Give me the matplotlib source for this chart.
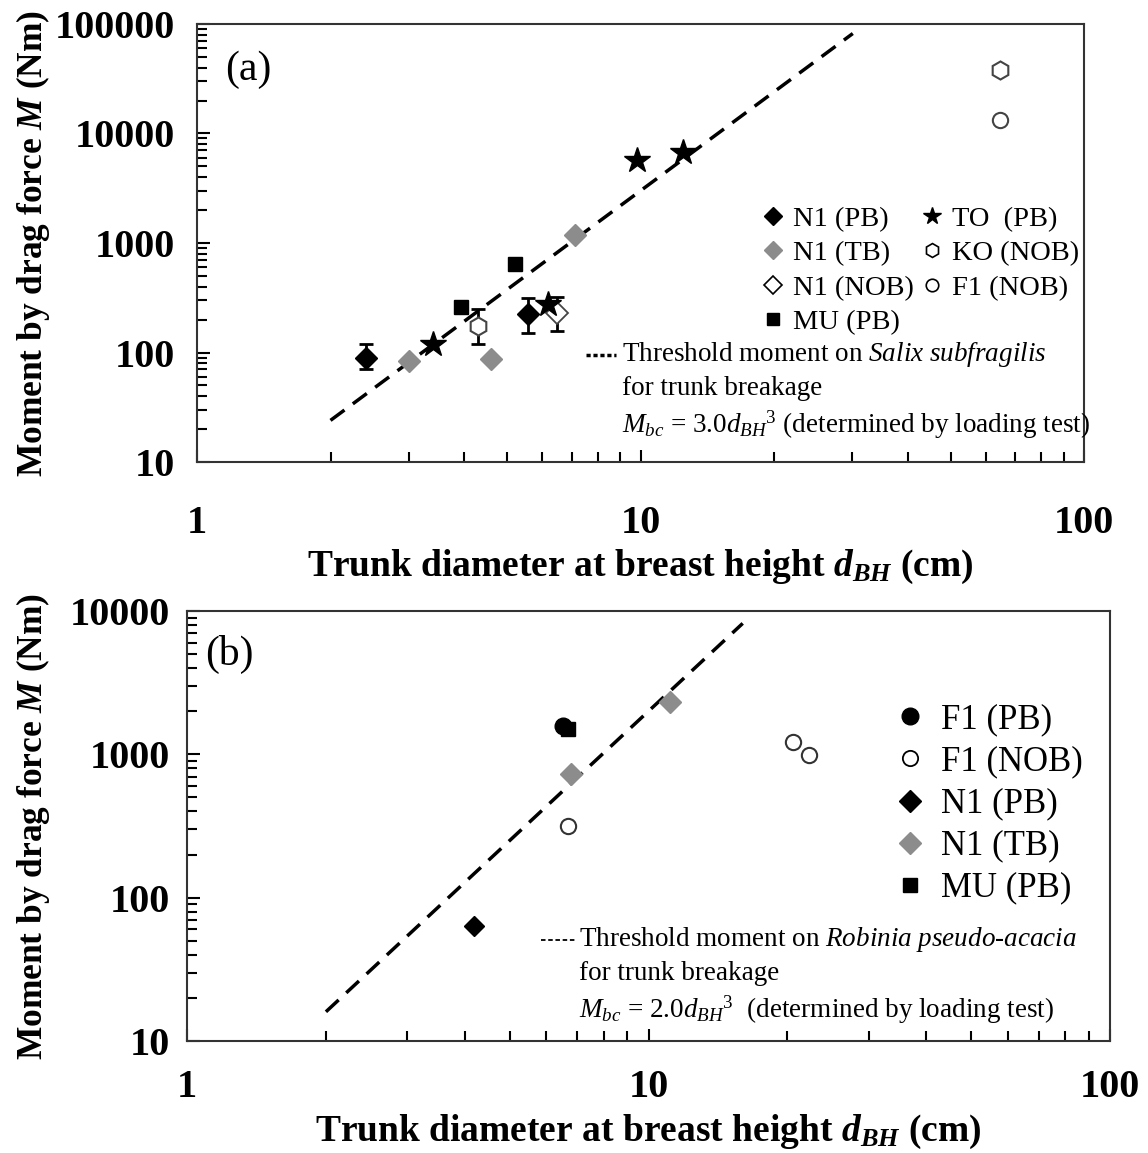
import numpy as np
import matplotlib
matplotlib.use("Agg")
import matplotlib.pyplot as plt
from matplotlib.lines import Line2D
from matplotlib.ticker import LogLocator, FuncFormatter, NullFormatter

plt.rcParams["font.family"] = ["Liberation Serif", "DejaVu Serif"]
plt.rcParams["mathtext.fontset"] = "custom"
plt.rcParams["mathtext.rm"] = "Liberation Serif"
plt.rcParams["mathtext.it"] = "Liberation Serif:italic"
plt.rcParams["mathtext.bf"] = "Liberation Serif:bold"
plt.rcParams["mathtext.bfit"] = "Liberation Serif:italic:bold"

GRAY = "#8c8c8c"

# ---- panel (a): Salix subfragilis ----
a_n1pb_d = [2.40, 5.57]
a_n1pb_m = [89, 223]
a_n1pb_lo = [70, 152]
a_n1pb_hi = [120, 313]

a_n1tb_d = [3.01, 4.60, 7.12]
a_n1tb_m = [84, 87, 1183]

a_n1nob_d = [6.47]
a_n1nob_m = [231]
a_n1nob_lo = [157]
a_n1nob_hi = [319]

a_mu_d = [3.93, 5.21]
a_mu_m = [262, 638]

a_to_d = [3.41, 6.18, 9.82, 12.47]
a_to_m = [119, 277, 5730, 6770]

a_ko_d = [4.31, 64.7]
a_ko_m = [175, 38000]
a_ko_lo = [120, 38000]
a_ko_hi = [248, 38000]

a_f1nob_d = [64.7]
a_f1nob_m = [13280]

a_coef = 3.0
a_line_d = [2.0, 30.1]

# ---- panel (b): Robinia pseudo-acacia ----
b_f1pb_d = [6.54]
b_f1pb_m = [1578]

b_f1nob_d = [6.68, 20.6, 22.3]
b_f1nob_m = [316, 1213, 991]

b_n1pb_d = [4.19]
b_n1pb_m = [63]

b_n1tb_d = [6.79, 11.13]
b_n1tb_m = [727, 2334]

b_mu_d = [6.70]
b_mu_m = [1497]

b_coef = 2.0
b_line_d = [2.0, 16.0]


def errbar(ax, d, m, lo, hi, **kw):
    m = np.array(m, float)
    yerr = [m - np.array(lo), np.array(hi) - m]
    ax.errorbar(d, m, yerr=yerr, fmt="none", ecolor="black",
                elinewidth=2, capsize=5, capthick=2, zorder=2)
    ax.plot(d, m, linestyle="none", zorder=3, **kw)


def style_axis(ax, ymin, ymax, xpad, ypad, fs):
    ax.set_xscale("log")
    ax.set_yscale("log")
    ax.set_xlim(1, 100)
    ax.set_ylim(ymin, ymax)
    fmt = FuncFormatter(lambda v, p: "%d" % round(v))
    ax.xaxis.set_major_formatter(fmt)
    ax.yaxis.set_major_formatter(fmt)
    ax.xaxis.set_minor_formatter(NullFormatter())
    ax.yaxis.set_minor_formatter(NullFormatter())
    ax.yaxis.set_major_locator(LogLocator(base=10, numticks=20))
    ax.yaxis.set_minor_locator(LogLocator(base=10, subs=np.arange(2, 10), numticks=20))
    ax.tick_params(which="both", direction="in", width=1.5, top=False, right=False)
    ax.tick_params(which="major", length=9)
    ax.tick_params(which="minor", length=7)
    ax.tick_params(axis="x", which="major", pad=xpad, labelsize=fs)
    ax.tick_params(axis="y", which="major", pad=ypad, labelsize=fs)
    for lab in ax.get_xticklabels() + ax.get_yticklabels():
        lab.set_fontweight("bold")
    for sp in ax.spines.values():
        sp.set_linewidth(1.5)
        sp.set_color("#333333")


fig = plt.figure(figsize=(11.48, 11.53), dpi=100)
fs = 19.5

# ================= (a) =================
ax = fig.add_axes([0.1716, 0.5993, 0.7727, 0.3799])
dd = np.array(a_line_d)
ax.plot(dd, a_coef * dd ** 3, color="black", lw=2.5, linestyle=(0, (5, 3)), zorder=1)

errbar(ax, a_n1pb_d, a_n1pb_m, a_n1pb_lo, a_n1pb_hi, marker="D", ms=11, color="black")
ax.plot(a_n1tb_d, a_n1tb_m, "D", ms=11, color=GRAY, linestyle="none", zorder=3)
errbar(ax, a_n1nob_d, a_n1nob_m, a_n1nob_lo, a_n1nob_hi, marker="D", ms=11,
       mfc="white", mec="#444444", mew=1.3)
ax.plot(a_mu_d, a_mu_m, "s", ms=10, color="black", linestyle="none", zorder=3)
ax.plot(a_to_d, a_to_m, "*", ms=19, color="black", linestyle="none", zorder=3)
errbar(ax, a_ko_d, a_ko_m, a_ko_lo, a_ko_hi, marker="h", ms=13,
       mfc="white", mec="#444444", mew=1.5)
ax.plot(a_f1nob_d, a_f1nob_m, "o", ms=11, mfc="white", mec="#444444", mew=1.5,
        linestyle="none", zorder=3)

style_axis(ax, 10, 100000, 31, 16, 29)
ax.set_xlabel("Trunk diameter at breast height $\\mathbfit{d}_{\\mathbfit{BH}}$ (cm)",
              fontsize=27, fontweight="bold", labelpad=4)
ax.set_ylabel("Moment by drag force $\\mathbfit{M}$ (Nm)", fontsize=25.5,
              fontweight="bold")
ax.yaxis.set_label_coords(-0.163, 0.5)
ax.text(0.032, 0.895, "(a)", transform=ax.transAxes, fontsize=30, va="center")

hs = [
    Line2D([], [], marker="D", ms=9, color="black", ls="none"),
    Line2D([], [], marker="D", ms=9, color=GRAY, ls="none"),
    Line2D([], [], marker="D", ms=9, mfc="white", mec="black", mew=1.2, ls="none"),
    Line2D([], [], marker="s", ms=8, color="black", ls="none"),
    Line2D([], [], marker="*", ms=13, color="black", ls="none"),
    Line2D([], [], marker="h", ms=10, mfc="white", mec="black", mew=1.2, ls="none"),
    Line2D([], [], marker="o", ms=9, mfc="white", mec="black", mew=1.2, ls="none"),
]
labs = ["N1 (PB)", "N1 (TB)", "N1 (NOB)", "MU (PB)", "TO  (PB)", "KO (NOB)", "F1 (NOB)"]
ax.legend(hs, labs, ncol=2, loc="upper left", bbox_to_anchor=(0.62, 0.617),
          frameon=False, fontsize=20.5, handlelength=0.8, handletextpad=0.3,
          columnspacing=0.25, labelspacing=0.3, borderpad=0)

ax.plot([0.438, 0.472], [0.245, 0.245], transform=ax.transAxes, color="black",
        lw=2.5, linestyle=(0, (1.2, 0.8)))
tx = 0.479
ax.text(tx, 0.245, "Threshold moment on $\\it{Salix\\ subfragilis}$",
        transform=ax.transAxes, fontsize=fs, va="center")
ax.text(tx, 0.168, "for trunk breakage", transform=ax.transAxes, fontsize=fs, va="center")
ax.text(tx, 0.085, "$M_{bc}$ = 3.0$d_{BH}$$^{3}$ (determined by loading test)",
        transform=ax.transAxes, fontsize=fs, va="center")

# ================= (b) =================
bx = fig.add_axes([0.1629, 0.0971, 0.8040, 0.3730])
dd = np.array(b_line_d)
bx.plot(dd, b_coef * dd ** 3, color="black", lw=2.5, linestyle=(0, (5, 3)), zorder=1)

bx.plot(b_f1pb_d, b_f1pb_m, "o", ms=12, color="black", ls="none", zorder=3)
bx.plot(b_mu_d, b_mu_m, "s", ms=10, color="black", ls="none", zorder=3)
bx.plot(b_n1tb_d, b_n1tb_m, "D", ms=11, color=GRAY, ls="none", zorder=3)
bx.plot(b_f1nob_d, b_f1nob_m, "o", ms=11, mfc="white", mec="#333333", mew=1.5,
        ls="none", zorder=3)
bx.plot(b_n1pb_d, b_n1pb_m, "D", ms=10, color="black", ls="none", zorder=3)

style_axis(bx, 10, 10000, 20, 12, 29)
bx.set_xlabel("Trunk diameter at breast height $\\mathbfit{d}_{\\mathbfit{BH}}$ (cm)",
              fontsize=27, fontweight="bold", labelpad=5)
bx.set_ylabel("Moment by drag force $\\mathbfit{M}$ (Nm)", fontsize=25.5,
              fontweight="bold")
bx.yaxis.set_label_coords(-0.146, 0.5)
bx.text(0.02, 0.898, "(b)", transform=bx.transAxes, fontsize=30, va="center")

hs = [
    Line2D([], [], marker="o", ms=12, color="black", ls="none"),
    Line2D([], [], marker="o", ms=11, mfc="white", mec="black", mew=1.3, ls="none"),
    Line2D([], [], marker="D", ms=11, color="black", ls="none"),
    Line2D([], [], marker="D", ms=11, color=GRAY, ls="none"),
    Line2D([], [], marker="s", ms=10, color="black", ls="none"),
]
labs = ["F1 (PB)", "F1 (NOB)", "N1 (PB)", "N1 (TB)", "MU (PB)"]
bx.legend(hs, labs, loc="upper left", bbox_to_anchor=(0.749, 0.825),
          frameon=False, fontsize=25, handlelength=0.8, handletextpad=0.5,
          labelspacing=0.26, borderpad=0)

bx.plot([0.383, 0.42], [0.235, 0.235], transform=bx.transAxes, color="black",
        lw=1.3, linestyle=(0, (2.5, 1.5)))
tx = 0.425
bx.text(tx, 0.235, "Threshold moment on $\\it{Robinia\\ pseudo}$-$\\it{acacia}$",
        transform=bx.transAxes, fontsize=fs, va="center")
bx.text(tx, 0.158, "for trunk breakage", transform=bx.transAxes, fontsize=fs, va="center")
bx.text(tx, 0.072, "$M_{bc}$ = 2.0$d_{BH}$$^{3}$  (determined by loading test)",
        transform=bx.transAxes, fontsize=fs, va="center")

fig.savefig("out.png", dpi=100)
